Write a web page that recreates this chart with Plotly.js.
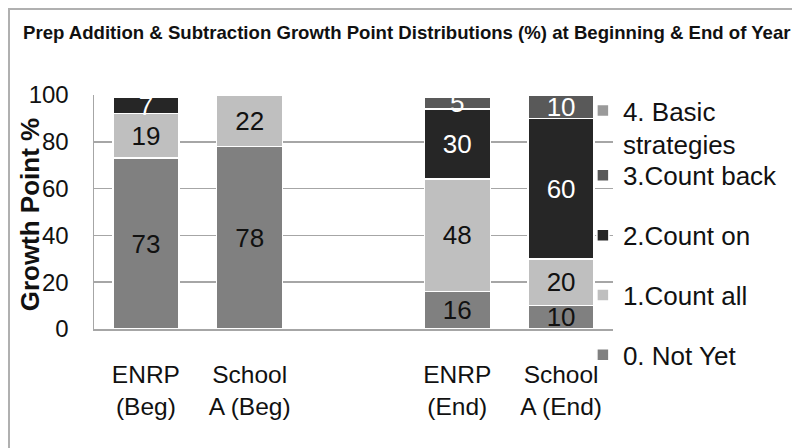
<!DOCTYPE html>
<html>
<head>
<meta charset="utf-8">
<script src="https://cdn.plot.ly/plotly-3.0.1.min.js"></script>
<style>
  html, body { margin: 0; padding: 0; background: #ffffff; }
  #chart { width: 792px; height: 448px; }
</style>
</head>
<body>
<div id="chart"></div>
<script>
// ---- data ----
const xIndex = [0, 1, 2, 3, 4];
const tickLabels = ['ENRP<br>(Beg)', 'School<br>A (Beg)', '', 'ENRP<br>(End)', 'School<br>A (End)'];

const seriesNames = ['0. Not Yet', '1.Count all', '2.Count on', '3.Count back', '4. Basic<br>strategies'];
const notYet    = [73, 78, null, 16, 10];
const countAll  = [19, 22, null, 48, 20];
const countOn   = [7, null, null, 30, 60];
const countBack = [null, null, null, 5, 10];
const basicStrategies = [null, null, null, null, null];

const seriesValues = [notYet, countAll, countOn, countBack, basicStrategies];
const seriesColors = ['#808080', '#bfbfbf', '#262626', '#595959', '#9a9a9a'];
const textColors   = ['#111111', '#111111', '#ffffff', '#ffffff', '#111111'];

const FONT = 'Liberation Sans, Arial, sans-serif';

const traces = seriesValues.map((vals, i) => ({
  type: 'bar',
  name: seriesNames[i],
  x: xIndex,
  y: vals,
  marker: { color: seriesColors[i], line: { color: '#ffffff', width: 1.5 } },
  texttemplate: '%{y}',
  textposition: 'inside',
  insidetextanchor: 'middle',
  textangle: 0,
  textfont: { family: FONT, size: 26, color: textColors[i] },
  hoverinfo: 'skip',
  legendgroup: 'g' + i,
  legendrank: 100 - i * 10,
  legend: i === 4 ? 'legend2' : 'legend'
}));

const legendCommon = {
  font: { family: FONT, size: 26, color: '#111111' },
  bgcolor: 'rgba(0,0,0,0)',
  borderwidth: 0,
  xanchor: 'left',
  yanchor: 'top',
  x: 0.942
};

const layout = {
  width: 792,
  height: 448,
  margin: { l: 94, r: 179, t: 95, b: 119, autoexpand: false },
  paper_bgcolor: '#ffffff',
  plot_bgcolor: '#ffffff',
  font: { family: FONT, color: '#111111' },
  barmode: 'stack',
  bargap: 0.364,
  uniformtext: { mode: 'show', minsize: 26 },
  title: {
    text: '<b>Prep Addition & Subtraction Growth Point Distributions (%) at Beginning & End of Year</b>',
    font: { family: FONT, size: 18.6, color: '#111111' },
    xref: 'container', yref: 'container',
    x: 23 / 792, xanchor: 'left',
    y: 1 - 32 / 448, yanchor: 'middle'
  },
  xaxis: {
    type: 'linear',
    range: [-0.5, 4.5],
    tickmode: 'array',
    tickvals: xIndex,
    ticktext: tickLabels,
    tickfont: { family: FONT, size: 24.5, color: '#111111' },
    ticks: 'outside', ticklen: 23, tickcolor: 'rgba(0,0,0,0)',
    showgrid: false, zeroline: false,
    showline: true, linecolor: '#a6a6a6', linewidth: 1.5,
    automargin: false, fixedrange: true
  },
  yaxis: {
    range: [0, 100],
    tick0: 0, dtick: 20,
    tickfont: { family: FONT, size: 24, color: '#111111' },
    ticks: 'outside', ticklen: 19, tickcolor: 'rgba(0,0,0,0)',
    showgrid: true, gridcolor: '#a6a6a6', gridwidth: 1.5,
    zeroline: false,
    showline: true, linecolor: '#a6a6a6', linewidth: 1.5,
    automargin: false, fixedrange: true
  },
  legend: Object.assign({}, legendCommon, {
    y: 0.7566,
    traceorder: 'grouped',
    tracegroupgap: 23
  }),
  legend2: Object.assign({}, legendCommon, {
    y: 1.034,
    valign: 'top'
  }),
  annotations: [{
    text: '<b>Growth Point %</b>',
    xref: 'paper', yref: 'paper',
    x: -0.1233, y: 0.49,
    xanchor: 'center', yanchor: 'middle',
    textangle: -90,
    showarrow: false,
    font: { family: FONT, size: 26, color: '#111111' }
  }],
  shapes: [{
    type: 'rect', xref: 'paper', yref: 'paper',
    x0: (9 - 94) / 519, x1: 1.6,
    y0: -1, y1: (329 - 9) / 234,
    line: { color: '#b0b0b0', width: 2 },
    fillcolor: 'rgba(0,0,0,0)',
    layer: 'below'
  }]
};

Plotly.newPlot('chart', traces, layout, { displayModeBar: false, staticPlot: true });
</script>
</body>
</html>
